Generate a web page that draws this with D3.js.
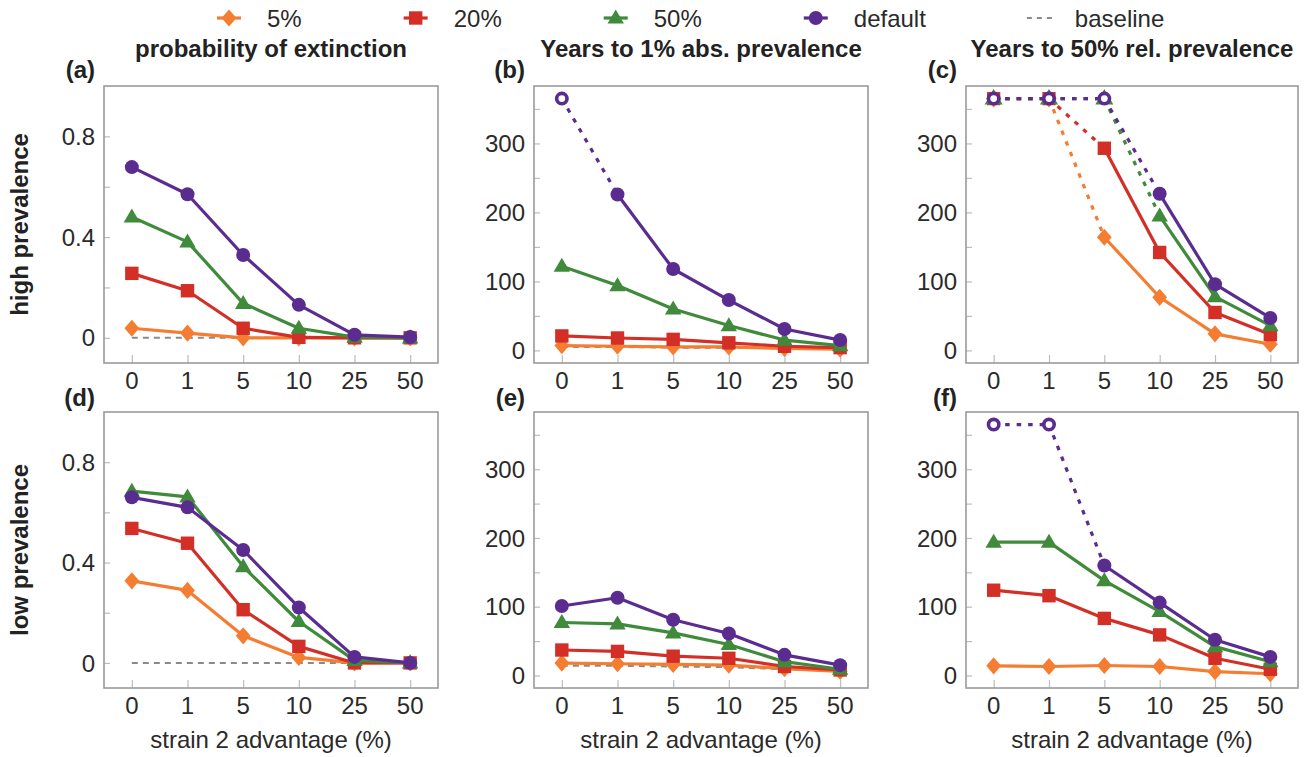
<!DOCTYPE html>
<html>
<head>
<meta charset="utf-8">
<script src="https://cdn.jsdelivr.net/npm/d3@7"></script>
<style>
  body { margin: 0; background: #fff; }
  svg { display: block; font-family: "Liberation Sans", Arial, sans-serif; }
</style>
</head>
<body>
<svg id="chart" width="1304" height="757"></svg>
<script>
// ---------------- data ----------------
const advantages = ["0", "1", "5", "10", "25", "50"];
const seriesNames = ["5%", "20%", "50%", "default"];
const seriesColors = ["#F47D32", "#D32F27", "#3F8A3B", "#5B2C90"];
const seriesShapes = ["diamond", "square", "triangle", "circle"];
const CAP = 365; // capped value (simulation horizon) drawn with open markers

const colTitles = ["probability of extinction", "Years to 1% abs. prevalence", "Years to 50% rel. prevalence"];
const rowTitles = ["high prevalence", "low prevalence"];
const panelLetters = ["(a)", "(b)", "(c)", "(d)", "(e)", "(f)"];
const xAxisTitle = "strain 2 advantage (%)";

// (a) high prevalence – probability of extinction  [5%, 20%, 50%, default]
const extinctionHigh = [
  [0.038, 0.019, 0.0, 0.0, 0.0, 0.0],
  [0.256, 0.187, 0.038, 0.002, 0.0, 0.0],
  [0.48, 0.381, 0.137, 0.038, 0.003, 0.0],
  [0.678, 0.570, 0.329, 0.131, 0.012, 0.003]
];
const extinctionHighBaseline = [0, 0, 0, 0, 0, 0];

// (b) high prevalence – years to 1% absolute prevalence
const absPrevHigh = [
  [7, 6, 5, 5, 3, 2],
  [21, 18, 16, 11, 6, 4],
  [122, 94, 60, 36, 15, 7],
  [365, 226, 118, 73, 31, 15]
];
const absPrevHighBaseline = [5, 5, 4, 4, 3, 2];

// (c) high prevalence – years to 50% relative prevalence
const relPrevHigh = [
  [365, 365, 164, 77, 24, 9],
  [365, 365, 293, 142, 55, 23],
  [365, 365, 365, 195, 78, 36],
  [365, 365, 365, 227, 96, 47]
];

// (d) low prevalence – probability of extinction
const extinctionLow = [
  [0.327, 0.289, 0.108, 0.022, 0.0, 0.0],
  [0.536, 0.477, 0.212, 0.066, 0.0, 0.0],
  [0.685, 0.662, 0.384, 0.165, 0.01, 0.0],
  [0.66, 0.62, 0.45, 0.221, 0.024, 0.0]
];
const extinctionLowBaseline = [0, 0, 0, 0, 0, 0];

// (e) low prevalence – years to 1% absolute prevalence
const absPrevLow = [
  [18, 17, 16, 15, 10, 6],
  [37, 35, 28, 25, 13, 8],
  [77, 75, 62, 45, 20, 9],
  [101, 113, 81, 61, 30, 15]
];
const absPrevLowBaseline = [14, 14, 13, 12, 9, 7];

// (f) low prevalence – years to 50% relative prevalence
const relPrevLow = [
  [14, 13, 14.5, 13, 5.5, 2.5],
  [124, 116, 83, 59, 25, 9],
  [194, 194, 138, 93, 42, 20],
  [365, 365, 160, 106, 52, 27]
];

const probTicks = [0, 0.4, 0.8];
const probMinorTicks = [0.2, 0.6];
const probTickLabels = ["0", "0.4", "0.8"];
const yearTicks = [0, 100, 200, 300];
const yearMinorTicks = [50, 150, 250, 350];

// ---------------- layout ----------------
const svg = d3.select("#chart");
const colX = [[104, 438], [534, 868], [966, 1298]];
const rowY = [[86, 363], [412, 688]];
const FS = 24;

const panels = [
  { data: extinctionHigh, base: extinctionHighBaseline, kind: "prob", row: 0, col: 0 },
  { data: absPrevHigh, base: absPrevHighBaseline, kind: "year", row: 0, col: 1 },
  { data: relPrevHigh, base: null, kind: "year", row: 0, col: 2 },
  { data: extinctionLow, base: extinctionLowBaseline, kind: "prob", row: 1, col: 0 },
  { data: absPrevLow, base: absPrevLowBaseline, kind: "year", row: 1, col: 1 },
  { data: relPrevLow, base: null, kind: "year", row: 1, col: 2 }
];

function shapePath(shape, big) {
  const s = big ? 1 : 0.72;
  if (shape === "diamond") { const w = 7.4 * s, h = 8.6 * s; return `M0,${-h}L${w},0L0,${h}L${-w},0Z`; }
  if (shape === "square") { const a = 6.7 * s; return `M${-a},${-a}H${a}V${a}H${-a}Z`; }
  if (shape === "triangle") { const w = 8.2 * s, h = 14 * s; return `M0,${-h * 0.6}L${w},${h * 0.4}L${-w},${h * 0.4}Z`; }
  const r = (big ? 7 : 5.2);
  return `M${r},0A${r},${r},0,1,1,${-r},0A${r},${r},0,1,1,${r},0Z`;
}

panels.forEach((p, pi) => {
  const [x0, x1] = colX[p.col];
  const [yTop, yBot] = rowY[p.row];
  const x = d3.scalePoint().domain(advantages).range([x0, x1]).padding(0.5);
  const y = d3.scaleLinear()
    .domain(p.kind === "prob" ? [-0.1, 1.0] : [-18.25, 383.25])
    .range([yBot, yTop]);
  const g = svg.append("g");

  // inner ticks (y)
  const majors = p.kind === "prob" ? probTicks : yearTicks;
  const minors = p.kind === "prob" ? probMinorTicks : yearMinorTicks;
  const yAxis = d3.axisRight(y).tickValues(majors.concat(minors)).tickSize(6).tickFormat("");
  const ya = g.append("g").attr("transform", `translate(${x0},0)`).call(yAxis);
  ya.select(".domain").remove();
  ya.selectAll(".tick line").attr("stroke", "#bdbdbd").attr("stroke-width", 1.2);

  // inner ticks (x)
  const xAxis = d3.axisTop(x).tickSize(8).tickFormat("");
  const xa = g.append("g").attr("transform", `translate(0,${yBot})`).call(xAxis);
  xa.select(".domain").remove();
  xa.selectAll(".tick line").attr("stroke", "#bdbdbd").attr("stroke-width", 1.2);

  // frame
  g.append("rect").attr("x", x0).attr("y", yTop).attr("width", x1 - x0).attr("height", yBot - yTop)
    .attr("fill", "none").attr("stroke", "#9a9a9a").attr("stroke-width", 1.6);

  // y tick labels
  g.selectAll(".ylab").data(majors).enter().append("text")
    .attr("x", x0 - 9).attr("y", d => y(d)).attr("dy", "0.36em")
    .attr("text-anchor", "end").attr("font-size", FS).attr("fill", "#2a2a2a")
    .text((d, i) => p.kind === "prob" ? probTickLabels[i] : d);

  // x tick labels
  g.selectAll(".xlab").data(advantages).enter().append("text")
    .attr("x", d => x(d)).attr("y", yBot + 26)
    .attr("text-anchor", "middle").attr("font-size", FS).attr("fill", "#2a2a2a")
    .text(d => d);

  // baseline
  if (p.base) {
    g.append("path").datum(p.base)
      .attr("d", d3.line().x((d, i) => x(advantages[i])).y(d => y(d)))
      .attr("fill", "none").attr("stroke", "#8a8a8a").attr("stroke-width", 2)
      .attr("stroke-dasharray", "6,5");
  }

  // series
  p.data.forEach((vals, si) => {
    const color = seriesColors[si];
    const sg = g.append("g");
    for (let i = 0; i < vals.length - 1; i++) {
      const capped = vals[i] >= CAP || vals[i + 1] >= CAP;
      sg.append("line")
        .attr("x1", x(advantages[i])).attr("y1", y(vals[i]))
        .attr("x2", x(advantages[i + 1])).attr("y2", y(vals[i + 1]))
        .attr("stroke", color).attr("stroke-width", 3.2)
        .attr("stroke-dasharray", capped ? "4.5,7" : null)
        .attr("stroke-linecap", "butt");
    }
    vals.forEach((v, i) => {
      const capped = v >= CAP;
      sg.append("path")
        .attr("d", shapePath(seriesShapes[si], !capped))
        .attr("transform", `translate(${x(advantages[i])},${y(v)})`)
        .attr("fill", capped ? "#fff" : color)
        .attr("stroke", capped ? color : "none")
        .attr("stroke-width", capped ? 3.6 : 0);
    });
  });

  // panel letter
  svg.append("text").attr("x", x0 - 9).attr("y", p.row === 0 ? 78 : 406)
    .attr("text-anchor", "end").attr("font-size", FS).attr("font-weight", "bold").attr("fill", "#222")
    .text(panelLetters[pi]);

  // column titles
  if (p.row === 0) {
    svg.append("text").attr("x", (x0 + x1) / 2).attr("y", 57)
      .attr("text-anchor", "middle").attr("font-size", FS).attr("font-weight", "bold").attr("fill", "#222")
      .text(colTitles[p.col]);
  } else {
    svg.append("text").attr("x", (x0 + x1) / 2).attr("y", 748)
      .attr("text-anchor", "middle").attr("font-size", FS).attr("fill", "#2a2a2a")
      .text(xAxisTitle);
  }
});

// row titles
rowY.forEach((r, ri) => {
  const cy = (r[0] + r[1]) / 2;
  svg.append("text").attr("transform", `translate(28,${cy}) rotate(-90)`)
    .attr("text-anchor", "middle").attr("font-size", FS).attr("font-weight", "bold").attr("fill", "#222")
    .text(rowTitles[ri]);
});

// legend
const leg = svg.append("g");
let lx = 229;
const ly = 18;
seriesNames.forEach((name, si) => {
  leg.append("line").attr("x1", lx - 12).attr("x2", lx + 12).attr("y1", ly).attr("y2", ly)
    .attr("stroke", seriesColors[si]).attr("stroke-width", 3.2);
  leg.append("path").attr("d", shapePath(seriesShapes[si], true))
    .attr("transform", `translate(${lx},${ly})`).attr("fill", seriesColors[si]);
  const t = leg.append("text").attr("x", lx + 38).attr("y", ly).attr("dy", "0.36em")
    .attr("font-size", FS).attr("fill", "#2a2a2a").text(name);
  lx = lx + 38 + t.node().getComputedTextLength() + 114;
});
leg.append("line").attr("x1", lx - 13).attr("x2", lx + 13).attr("y1", ly).attr("y2", ly)
  .attr("stroke", "#8a8a8a").attr("stroke-width", 2).attr("stroke-dasharray", "5,5");
leg.append("text").attr("x", lx + 35).attr("y", ly).attr("dy", "0.36em")
  .attr("font-size", FS).attr("fill", "#2a2a2a").text("baseline");
</script>
</body>
</html>
